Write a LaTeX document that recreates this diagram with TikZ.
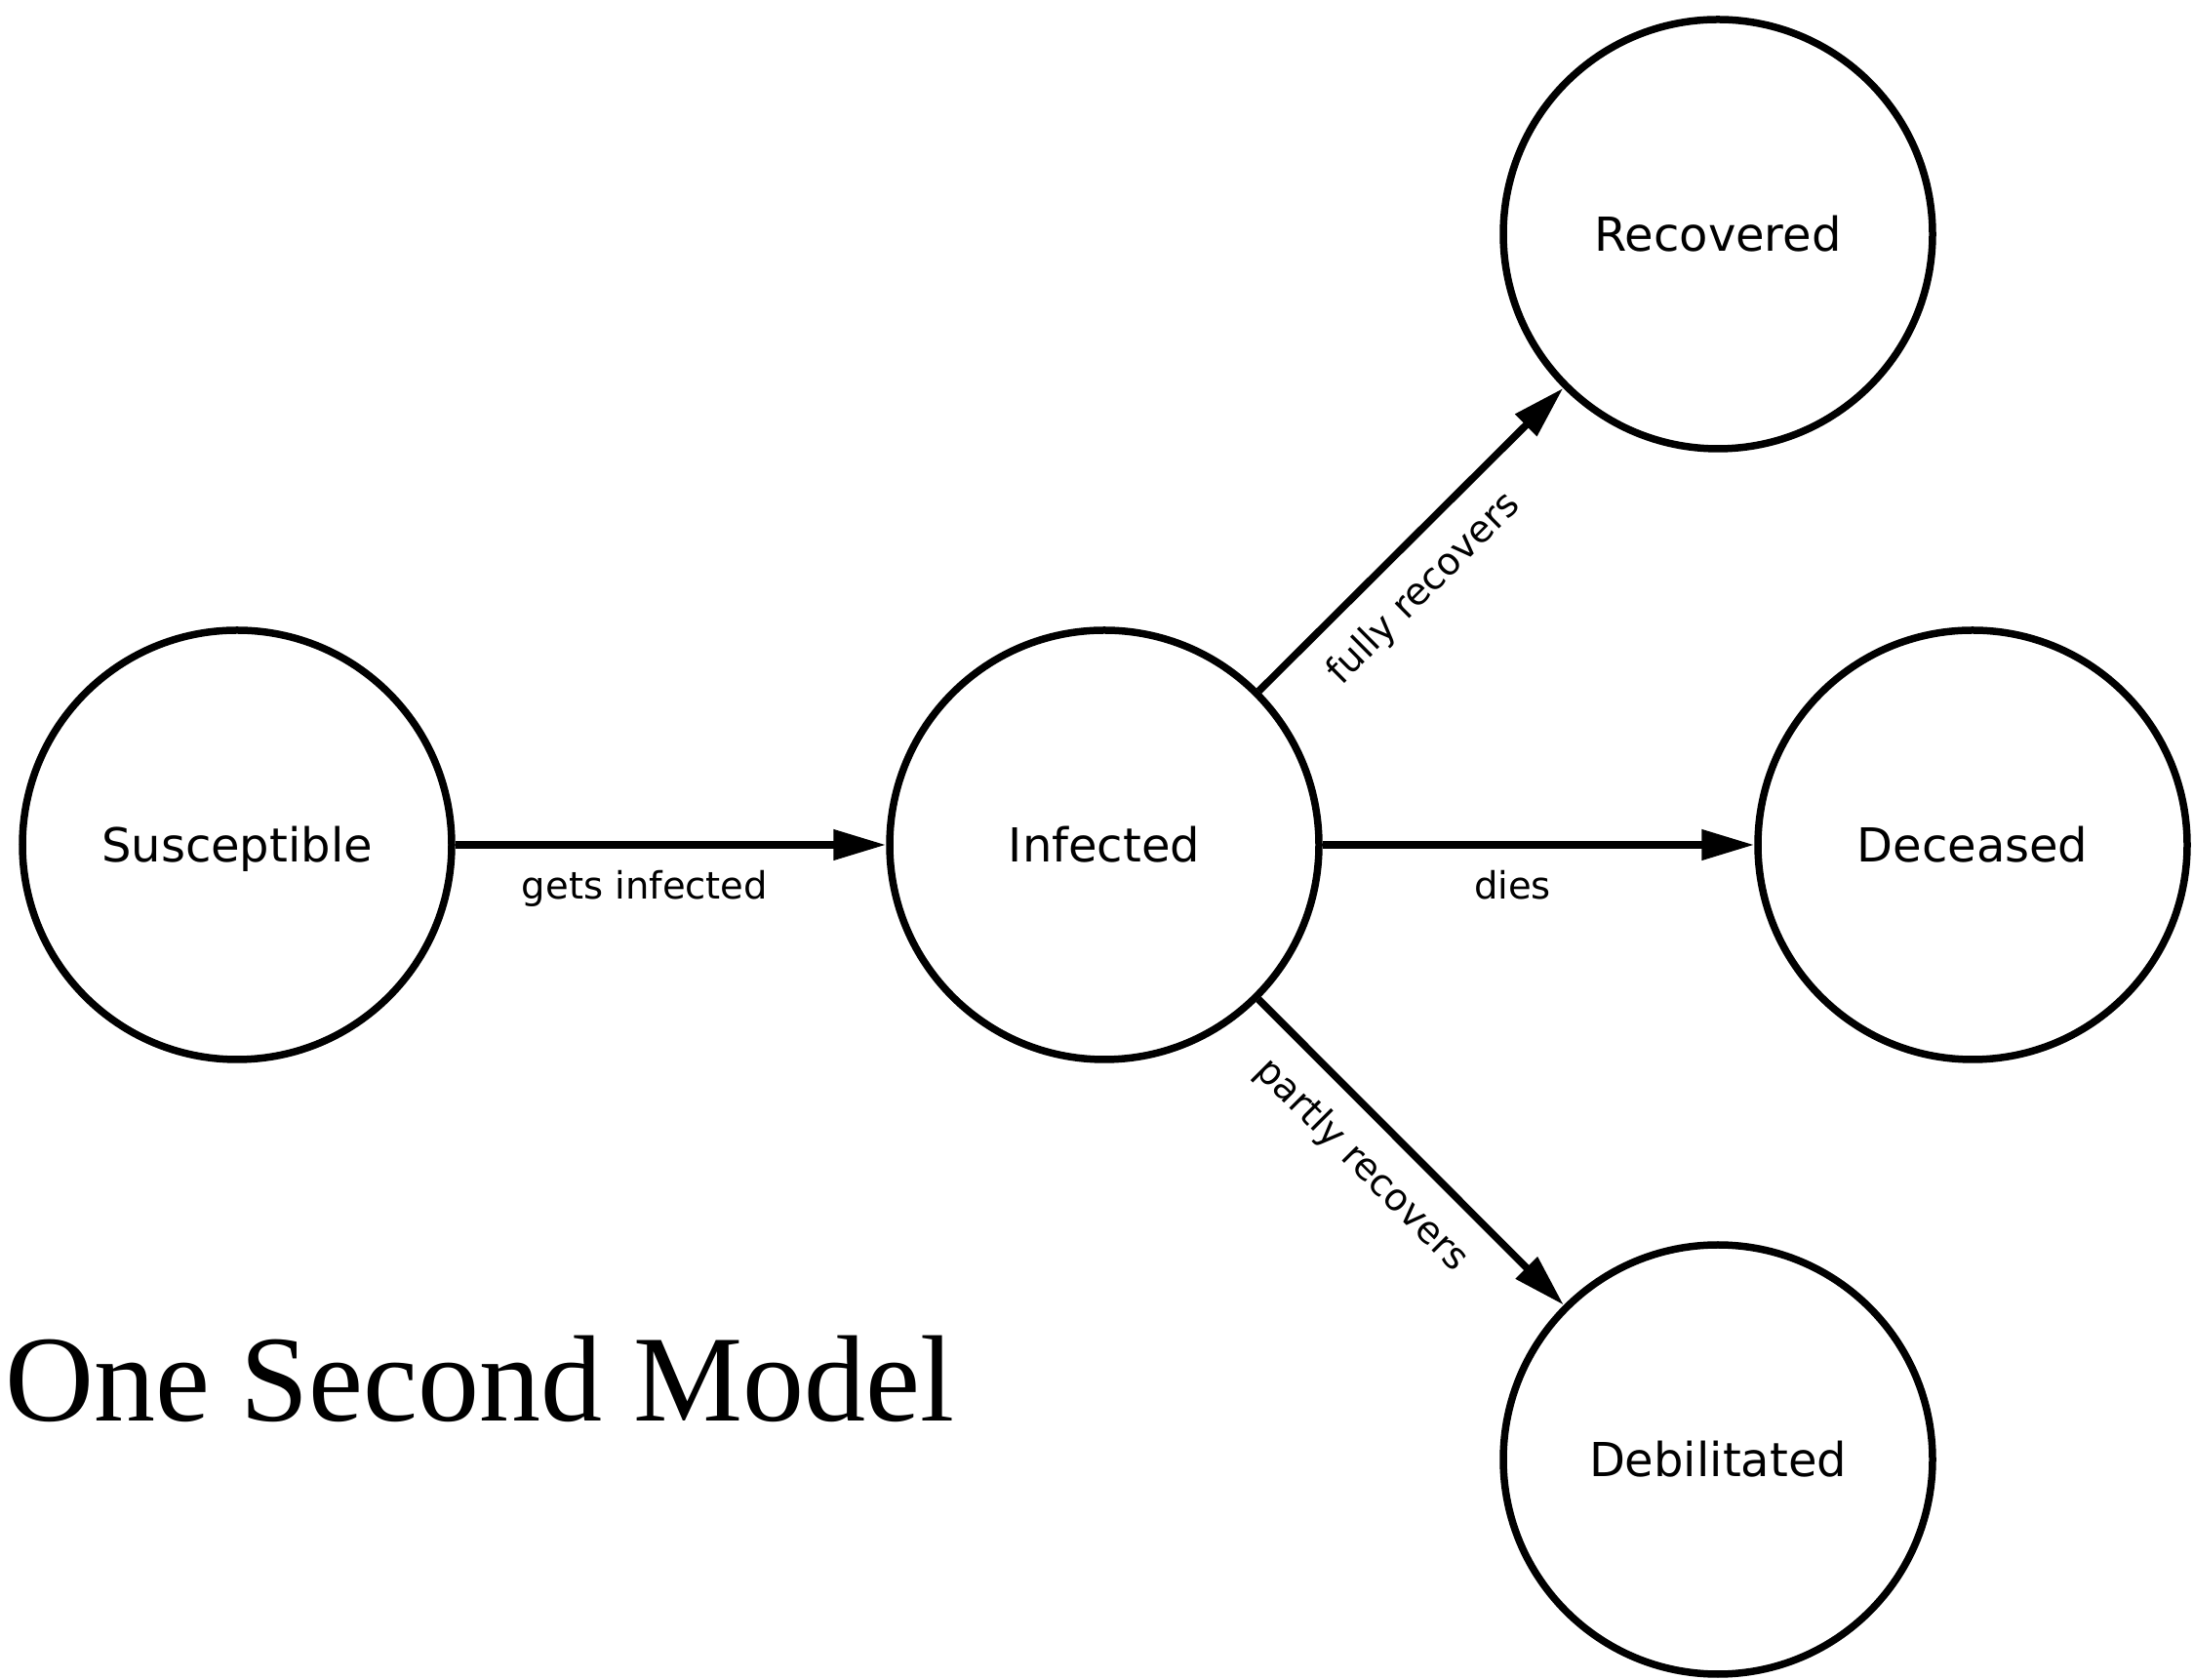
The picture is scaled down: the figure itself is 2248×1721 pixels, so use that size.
\documentclass[tikz,border=0pt]{standalone}
\usepackage{fontspec}
\setsansfont{DejaVu Sans}
\newfontfamily\titlefont{Liberation Serif}
\usetikzlibrary{arrows.meta}
\begin{document}
\begin{tikzpicture}[x=1pt,y=1pt,
  state/.style={circle, draw=black, line width=7.5pt, minimum size=440pt, inner sep=0pt,
    font=\sffamily\fontsize{48}{58}\selectfont, text height=35pt, text depth=0pt},
  trans/.style={line width=7.5pt, -{Triangle[length=54pt,width=30pt]}},
  lbl/.style={font=\sffamily\fontsize{38.5}{46}\selectfont, sloped, below, inner sep=23pt, pos=0.44}]
\useasboundingbox (0,0) rectangle (2248,1721);
\node[state] (S) at (243,855) {Susceptible};
\node[state] (I) at (1132,855) {Infected};
\node[state] (R) at (1761,1481) {Recovered};
\node[state] (De) at (2022,855) {Deceased};
\node[state] (Db) at (1761,225) {Debilitated};
\draw[trans] (S) -- node[lbl] {gets infected} (I);
\draw[trans] (I) -- node[lbl] {fully recovers} (R);
\draw[trans] (I) -- node[lbl] {dies} (De);
\draw[trans] (I) -- node[lbl] {partly recovers} (Db);
\node[anchor=base west, inner sep=0pt] (title) at (5,264)
  {\titlefont\fontsize{126}{126}\selectfont One Second Model};
\end{tikzpicture}
\end{document}
